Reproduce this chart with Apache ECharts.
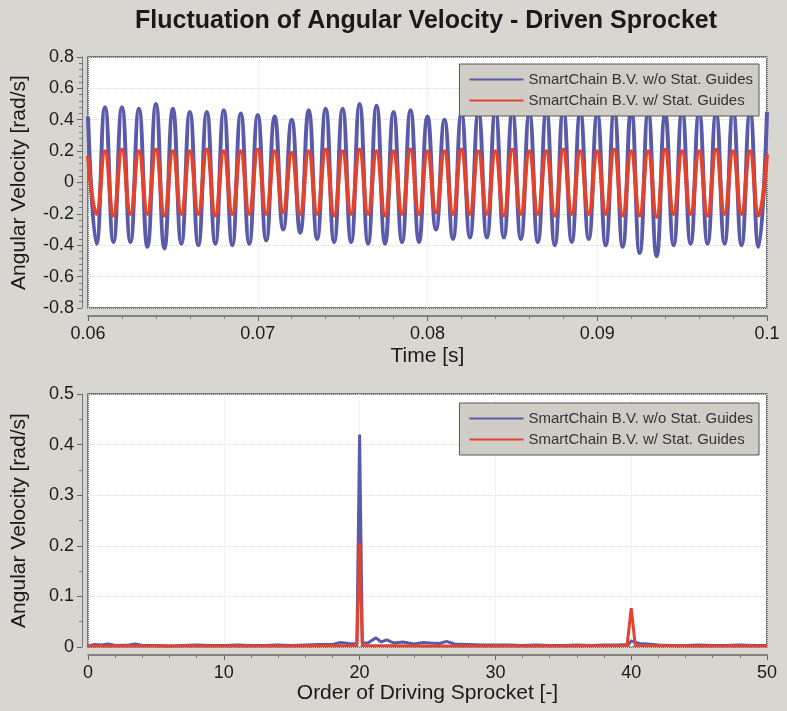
<!DOCTYPE html>
<html>
<head>
<meta charset="utf-8">
<script src="https://cdn.jsdelivr.net/npm/echarts@6/dist/echarts.min.js"></script>
<style>
  html, body { margin: 0; padding: 0; background: #d8d6d0; }
  #chart { width: 787px; height: 711px; }
</style>
</head>
<body>
<div id="chart"></div>
<script>
// series names
var nameWo = 'SmartChain B.V. w/o Stat. Guides';
var nameW = 'SmartChain B.V. w/ Stat. Guides';

// time domain: one peak each ms from 0.060 s to 0.100 s, trough half way between
var tStart = 0.06;
var period = 0.001;
var bluePeaks = [0.42, 0.48, 0.48, 0.47, 0.50, 0.47, 0.45, 0.45, 0.46, 0.44, 0.43,
    0.42, 0.40, 0.46, 0.47, 0.47, 0.50, 0.49, 0.45, 0.46, 0.42, 0.40,
    0.44, 0.45, 0.46, 0.45, 0.44, 0.46, 0.47, 0.45, 0.44, 0.46,
    0.47, 0.45, 0.44, 0.46, 0.45, 0.44, 0.46, 0.45, 0.45];
var blueTroughs = [-0.39, -0.38, -0.38, -0.41, -0.42, -0.39, -0.40, -0.39, -0.40, -0.39,
    -0.37, -0.30, -0.32, -0.36, -0.38, -0.38, -0.39, -0.39, -0.38, -0.38,
    -0.30, -0.36, -0.35, -0.35, -0.35, -0.36, -0.38, -0.40, -0.38, -0.36,
    -0.40, -0.41, -0.45, -0.47, -0.40, -0.39, -0.39, -0.39, -0.40, -0.41];
var redPeaks = [0.17, 0.20, 0.21, 0.20, 0.21, 0.20, 0.20, 0.21, 0.20, 0.20, 0.21,
    0.20, 0.19, 0.20, 0.21, 0.20, 0.21, 0.20, 0.20, 0.21, 0.20, 0.20,
    0.21, 0.20, 0.20, 0.21, 0.20, 0.20, 0.21, 0.20, 0.20, 0.21,
    0.20, 0.20, 0.21, 0.20, 0.20, 0.21, 0.20, 0.20, 0.18];
var redTroughs = [-0.20, -0.21, -0.20, -0.20, -0.21, -0.20, -0.20, -0.21, -0.20, -0.20,
    -0.20, -0.19, -0.20, -0.20, -0.21, -0.20, -0.20, -0.21, -0.20, -0.20,
    -0.19, -0.20, -0.20, -0.20, -0.21, -0.20, -0.20, -0.21, -0.20, -0.20,
    -0.20, -0.21, -0.21, -0.22, -0.20, -0.20, -0.21, -0.20, -0.20, -0.21];

// order spectrum [order, amplitude]
var specBlue = [[0, 0.002], [0.5, 0.005], [1, 0.004], [1.5, 0.006], [2, 0.003], [3, 0.004],
    [3.5, 0.006], [4, 0.003], [5, 0.003], [6, 0.002], [7, 0.003], [8, 0.004], [9, 0.003],
    [10, 0.003], [11, 0.004], [12, 0.003], [13, 0.003], [14, 0.004], [15, 0.003], [16, 0.004],
    [17, 0.005], [18, 0.005], [18.6, 0.009], [19.2, 0.007], [19.8, 0.006], [20, 0.42],
    [20.2, 0.008], [20.6, 0.008], [21.2, 0.018], [21.6, 0.01], [22, 0.014], [22.5, 0.008],
    [23.2, 0.01], [24, 0.006], [24.7, 0.009], [25.2, 0.008], [25.9, 0.007], [26.4, 0.011],
    [27, 0.006], [28, 0.005], [29, 0.004], [30, 0.004], [31, 0.004], [32, 0.003], [33, 0.004],
    [34, 0.003], [35, 0.003], [36, 0.004], [37, 0.003], [38, 0.004], [39, 0.004], [39.8, 0.005],
    [40, 0.012], [40.6, 0.007], [41.2, 0.006], [42, 0.004], [43, 0.003], [44, 0.003],
    [45, 0.004], [46, 0.003], [47, 0.003], [48, 0.004], [49, 0.003], [50, 0.003]];
var specRed = [[0, 0.002], [2, 0.002], [5, 0.002], [10, 0.002], [15, 0.002], [19.8, 0.003],
    [20, 0.205], [20.2, 0.003], [25, 0.002], [30, 0.002], [35, 0.002], [39.7, 0.003],
    [40, 0.077], [40.3, 0.003], [45, 0.002], [50, 0.002]];

function zigzag(peaks, troughs) {
    var out = [];
    for (var i = 0; i < peaks.length; i++) {
        out.push([tStart + i * period, peaks[i]]);
        if (i < troughs.length) out.push([tStart + (i + 0.5) * period, troughs[i]]);
    }
    return out;
}

var blue = '#5a5aaa';
var red = '#e2432e';
var font = 'Liberation Sans, Arial, Helvetica, sans-serif';

function xAxisCfg(idx, name, min, max, interval, gap) {
    return {
        type: 'value', gridIndex: idx, name: name, nameLocation: 'middle', nameGap: gap,
        nameTextStyle: { fontSize: 21, color: '#1a1a1a', fontFamily: font },
        min: min, max: max, interval: interval, offset: 8,
        axisLine: { show: true, onZero: false, lineStyle: { color: '#666', width: 1.5 } },
        axisTick: { show: true, length: 5, lineStyle: { color: '#666' } },
        minorTick: { show: true, splitNumber: 5, length: 3, lineStyle: { color: '#777' } },
        axisLabel: { fontSize: 18, color: '#1a1a1a', fontFamily: font, margin: 9 },
        splitLine: { show: true, lineStyle: { color: '#e2e2e2', type: 'dotted' } }
    };
}
function yAxisCfg(idx, min, max, interval, minorSplit) {
    return {
        type: 'value', gridIndex: idx, name: 'Angular Velocity [rad/s]', nameLocation: 'middle',
        nameGap: 52, nameTextStyle: { fontSize: 21, color: '#1a1a1a', fontFamily: font },
        min: min, max: max, interval: interval, offset: 6,
        axisLine: { show: true, onZero: false, lineStyle: { color: '#777', width: 1 } },
        axisTick: { show: true, length: 5, lineStyle: { color: '#666' } },
        minorTick: { show: true, splitNumber: minorSplit, length: 3, lineStyle: { color: '#777' } },
        axisLabel: { fontSize: 18, color: '#1a1a1a', fontFamily: font, margin: 8 },
        splitLine: { show: true, lineStyle: { color: '#dadada', type: 'dotted' } }
    };
}
function legendCfg(top) {
    return {
        data: [nameWo, nameW], orient: 'vertical', right: 28, top: top,
        backgroundColor: '#cfcdc6', borderColor: '#555', borderWidth: 1,
        padding: [8, 6, 8, 10], itemGap: 6, itemWidth: 54, itemHeight: 14,
        icon: 'path://M0,6 L54,6 L54,8 L0,8 Z',
        textStyle: { fontSize: 15, color: '#333', fontFamily: font }
    };
}

var myChart = echarts.init(document.getElementById('chart'));
var option = {
    backgroundColor: '#d8d6d0',
    animation: false,
    title: {
        text: 'Fluctuation of Angular Velocity - Driven Sprocket',
        left: 130, top: 4,
        textStyle: { fontSize: 25, fontWeight: 'bold', color: '#1a1a1a', fontFamily: font }
    },
    legend: [legendCfg(64), legendCfg(403)],
    grid: [
        { left: 88, right: 20, top: 57, height: 251, show: true, backgroundColor: '#fff', borderColor: '#555', borderWidth: 1.5 },
        { left: 88, right: 20, top: 394, height: 253, show: true, backgroundColor: '#fff', borderColor: '#555', borderWidth: 1.5 }
    ],
    xAxis: [
        xAxisCfg(0, 'Time [s]', 0.06, 0.1, 0.01, 30),
        xAxisCfg(1, 'Order of Driving Sprocket [-]', 0, 50, 10, 27)
    ],
    yAxis: [
        yAxisCfg(0, -0.8, 0.8, 0.2, 5),
        yAxisCfg(1, 0, 0.5, 0.1, 2)
    ],
    series: [
        { name: nameWo, type: 'line', xAxisIndex: 0, yAxisIndex: 0, data: zigzag(bluePeaks, blueTroughs),
          smooth: 0.5, showSymbol: false, lineStyle: { color: blue, width: 4 }, itemStyle: { color: blue } },
        { name: nameW, type: 'line', xAxisIndex: 0, yAxisIndex: 0, data: zigzag(redPeaks, redTroughs),
          smooth: 0.5, showSymbol: false, lineStyle: { color: red, width: 4 }, itemStyle: { color: red } },
        { name: nameWo, type: 'line', xAxisIndex: 1, yAxisIndex: 1, data: specBlue,
          showSymbol: false, lineStyle: { color: blue, width: 3 }, itemStyle: { color: blue } },
        { name: nameW, type: 'line', xAxisIndex: 1, yAxisIndex: 1, data: specRed,
          showSymbol: false, lineStyle: { color: red, width: 3 }, itemStyle: { color: red } }
    ]
};
myChart.setOption(option, true);
</script>
</body>
</html>
